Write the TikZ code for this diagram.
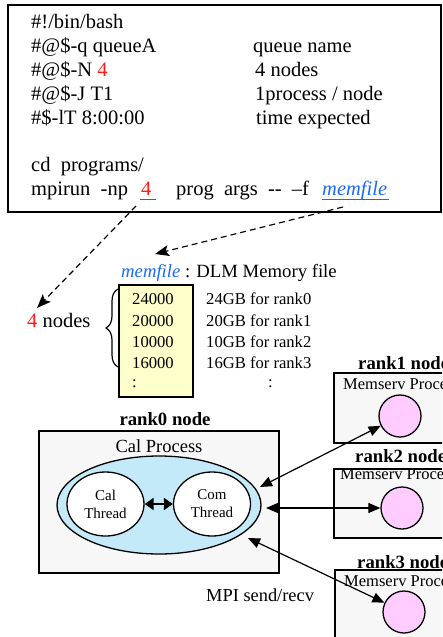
\documentclass[tikz,border=0pt]{standalone}
\usepackage{fontspec}
\setmainfont{Liberation Serif}
\usetikzlibrary{arrows.meta,shapes.geometric,decorations.pathreplacing}
\definecolor{myred}{RGB}{255,25,25}
\definecolor{myblue}{RGB}{25,105,255}
\definecolor{yelfill}{RGB}{255,255,204}
\definecolor{boxgray}{RGB}{247,247,247}
\definecolor{procblue}{RGB}{196,234,250}
\definecolor{pinkfill}{RGB}{255,204,255}
\newcommand{\fsz}[1]{\fontsize{#1}{#1}\selectfont}
\begin{document}
\begin{tikzpicture}[x=1pt,y=-1pt,
  big/.style={inner sep=0pt, anchor=base west, font=\fsz{20.5}},
  mid/.style={inner sep=0pt, anchor=base west, font=\fsz{16.6}},
  lbl/.style={inner sep=0pt, anchor=base west, font=\bfseries\fsz{18.7}},
  memtxt/.style={inner sep=0pt, anchor=base west, font=\fsz{16.5}},
  frame/.style={draw=black, line width=1.3pt},
  arr/.style={line width=1.2pt, {Triangle[length=12pt,width=10pt]}-{Triangle[length=12pt,width=10pt]}},
  dasharr/.style={line width=1.2pt, dash pattern=on 6pt off 4pt, -{Stealth[length=14pt,width=11pt,inset=3pt]}},
  thread/.style={ellipse, draw, line width=1.3pt, fill=white, minimum width=77pt, minimum height=64pt, inner sep=0pt, align=center, font=\fsz{15}\linespread{1.2}\selectfont},
  memcirc/.style={circle, draw, line width=1.3pt, fill=pinkfill, minimum size=42pt, inner sep=0pt}
]
\useasboundingbox (0,0) rectangle (442,637);
\clip (0,0) rectangle (442,637);

% script box
\draw[frame] (8,5) rectangle (441,212);
\node[big] (l1) at (31,28.5) {\#!/bin/bash};
\node[big] (l2) at (31,52.5) {\#@\$-q queueA};
\node[big] (l3) at (31,76.5) {\#@\$-N \textcolor{myred}{4}};
\node[big] (l4) at (31,100.5) {\#@\$-J T1};
\node[big] (l5) at (31,124.5) {\#\$-lT 8:00:00};
\node[big] (r2) at (253,52.5) {queue name};
\node[big] (r3) at (255,76.5) {4 nodes};
\node[big] (r4) at (255,100.5) {1process / node};
\node[big] (r5) at (256,124.5) {time expected};
\node[big] (cd) at (31,171) {cd\ \ programs/};
\node[big] (mp) at (31,195) {mpirun\ \ -np};
\node[big] (np4) at (141,195) {\textcolor{myred}{4}};
\node[big] (prog) at (176,195) {prog\ \ args\ \ -{}-\ \ –f};
\node[big] (mf) at (322,195) {\textcolor{myblue}{\itshape memfile}};
\draw[myred, line width=1.2pt] (140,199.5) -- (156,199.5);
\draw[myblue, line width=1.1pt] (322,199.5) -- (389,199.5);

% dashed arrows
\coordinate (d1s) at (136,206);
\coordinate (d1e) at (37,308);
\coordinate (d2s) at (343,207);
\coordinate (d2e) at (155,254);
\draw[dasharr] (d1s) -- (d1e);
\draw[dasharr] (d2s) -- (d2e);

% memfile
\node[inner sep=0pt, anchor=base west, font=\fsz{18.7}] (mtitle) at (121,277) {\textcolor{myblue}{\itshape memfile} : DLM Memory file};
\draw[line width=1.3pt, fill=yelfill] (119,285) rectangle (193,397);
\node[mid] (n1) at (132,304.5) {24000};
\node[mid] (n2) at (132,326) {20000};
\node[mid] (n3) at (132,347) {10000};
\node[mid] (n4) at (132,368) {16000};
\node[mid] (n5) at (132,387) {:};
\node[mid] (g1) at (206,304.5) {24GB for rank0};
\node[mid] (g2) at (206,326) {20GB for rank1};
\node[mid] (g3) at (206,347) {10GB for rank2};
\node[mid] (g4) at (206,368) {16GB for rank3};
\node[mid] (g5) at (268,387) {:};
\draw[line width=1.2pt, decorate, decoration={brace, amplitude=12pt}] (118,367) -- (118,289);
\node[big] (fournodes) at (27,327) {\textcolor{myred}{4} nodes};

% rank0 node
\node[inner sep=0pt, anchor=base, font=\bfseries\fsz{18.7}] (r0lbl) at (165,425) {rank0 node};
\draw[frame, fill=boxgray] (39,431) rectangle (279,573);
\node[inner sep=0pt, anchor=base, font=\fsz{18.5}] (calp) at (159,452) {Cal Process};
\node[ellipse, draw, line width=1.3pt, fill=procblue, minimum width=204pt, minimum height=98pt, inner sep=0pt] (proc) at (159,505) {};
\node[thread] (calt) at (105.5,504) {Cal\\Thread};
\node[thread] (comt) at (212,504) {Com\\Thread};
\draw[line width=2pt, {Triangle[length=9pt,width=12pt]}-{Triangle[length=9pt,width=12pt]}] (calt) -- (comt);

\node[inner sep=0pt, anchor=base west, font=\fsz{18.4}] (mpi) at (206,601) {MPI send/recv};

% rank1
\node[lbl] (r1lbl) at (358,369) {rank1 node};
\draw[frame, fill=boxgray] (334,373) rectangle (470,443);
\node[memtxt] (m1) at (343,389) {Memserv Process};
\node[memcirc] (c1) at (400,416) {};
% rank2
\node[lbl] (r2lbl) at (355,462) {rank2 node};
\draw[frame, fill=boxgray] (334,469) rectangle (470,538);
\node[memtxt] (m2) at (340,479) {Memserv Process};
\node[memcirc] (c2) at (402,508) {};
% rank3
\node[lbl] (r3lbl) at (357,568) {rank3 node};
\draw[frame, fill=boxgray] (335,570) rectangle (470,660);
\node[memtxt] (m3) at (344,586) {Memserv Process};
\node[memcirc] (c3) at (404,612) {};

% MPI arrows
\coordinate (a1) at (260,487);
\coordinate (a2) at (266,508);
\coordinate (a3) at (248,538);
\draw[arr] (a1) -- (c1);
\draw[arr] (a2) -- (c2);
\draw[arr] (a3) -- (c3);
\end{tikzpicture}
\end{document}
